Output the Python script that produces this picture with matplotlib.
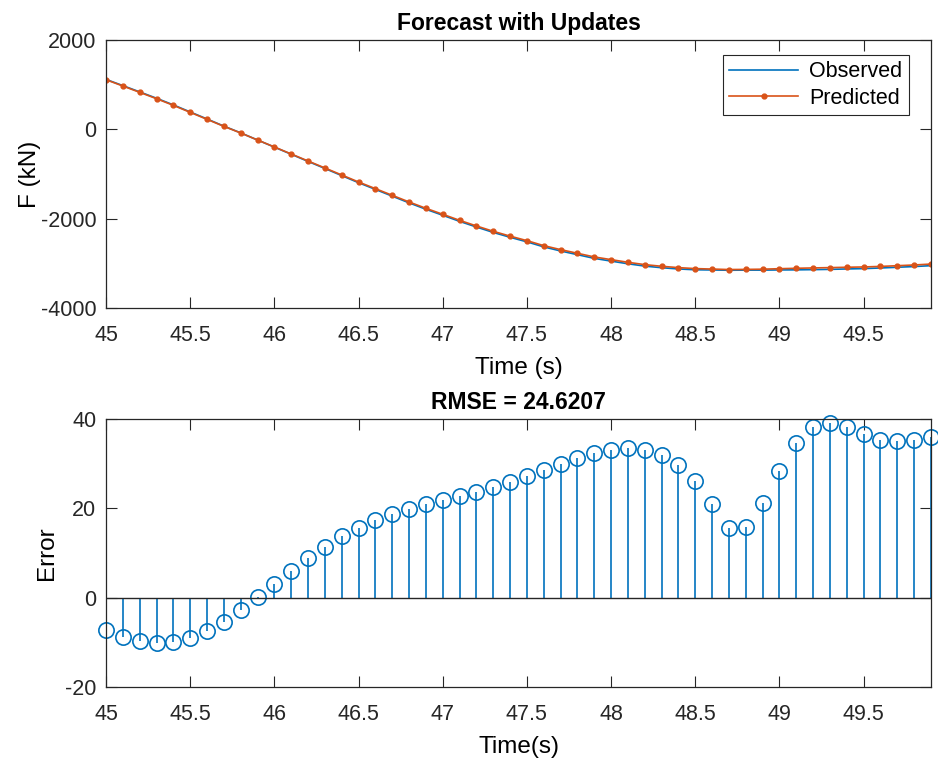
import numpy as np
import matplotlib
matplotlib.use("Agg")
from matplotlib import pyplot as plt

plt.rcParams['font.family'] = ['Liberation Sans', 'DejaVu Sans']
plt.rcParams['axes.unicode_minus'] = False

# Time stamps of the forecast window
t = [45.0, 45.1, 45.2, 45.3, 45.4, 45.5, 45.6, 45.7, 45.8, 45.9,
     46.0, 46.1, 46.2, 46.3, 46.4, 46.5, 46.6, 46.7, 46.8, 46.9,
     47.0, 47.1, 47.2, 47.3, 47.4, 47.5, 47.6, 47.7, 47.8, 47.9,
     48.0, 48.1, 48.2, 48.3, 48.4, 48.5, 48.6, 48.7, 48.8, 48.9,
     49.0, 49.1, 49.2, 49.3, 49.4, 49.5, 49.6, 49.7, 49.8, 49.9]

# Force (kN)
observed = [1118, 979, 838, 696, 547, 389, 232, 72, -79, -239,
            -398, -558, -718, -876, -1036, -1195, -1345, -1496, -1646, -1789,
            -1924, -2060, -2187, -2308, -2417, -2519, -2632, -2723, -2806, -2889,
            -2950, -3010, -3062, -3098, -3126, -3144, -3149, -3155, -3152, -3152,
            -3148, -3146, -3141, -3135, -3126, -3118, -3104, -3088, -3072, -3052]

predicted = [1111, 970, 828, 686, 537, 380, 224, 67, -82, -239,
             -395, -552, -709, -865, -1022, -1179, -1328, -1477, -1626, -1768,
             -1902, -2037, -2163, -2283, -2391, -2492, -2604, -2693, -2775, -2857,
             -2917, -2977, -3029, -3066, -3096, -3118, -3128, -3139, -3136, -3131,
             -3120, -3111, -3103, -3096, -3088, -3081, -3069, -3053, -3037, -3016]

# Prediction error
err = [-7.2, -8.8, -9.8, -10.2, -10.0, -9.1, -7.5, -5.4, -2.8, 0.1,
       3.0, 6.0, 8.9, 11.4, 13.7, 15.7, 17.4, 18.7, 19.9, 20.9,
       21.9, 22.8, 23.7, 24.8, 25.9, 27.2, 28.5, 29.9, 31.2, 32.4,
       33.1, 33.4, 33.1, 31.9, 29.6, 26.1, 21.0, 15.6, 15.9, 21.2,
       28.4, 34.6, 38.1, 39.2, 38.1, 36.6, 35.4, 35.1, 35.4, 36.0]

blue = '#0072BD'
orange = '#D95319'
axcol = '#262626'

fig = plt.figure(figsize=(9.38, 7.6), dpi=100)
ax1 = fig.add_axes([106 / 938, 1 - 308 / 760, 825 / 938, 268 / 760])
ax2 = fig.add_axes([106 / 938, 1 - 687 / 760, 825 / 938, 268 / 760])

ax1.plot(t, observed, color=blue, lw=1.2, label='Observed')
ax1.plot(t, predicted, color=orange, lw=1.2, marker='.', ms=7, label='Predicted')
ax1.set_xlim(45, 49.9)
ax1.set_ylim(-4000, 2000)
ax1.set_yticks([-4000, -2000, 0, 2000])
ax1.set_title('Forecast with Updates', fontsize=16.5, fontweight='bold', pad=7)
ax1.set_xlabel('Time (s)', fontsize=17.5, labelpad=8)
ax1.set_ylabel('F (kN)', fontsize=17.5, labelpad=0)
leg = ax1.legend(loc='upper right', fontsize=15.5, fancybox=False, framealpha=1,
                 edgecolor=axcol, handlelength=3.2, borderpad=0.3,
                 labelspacing=0.25, handletextpad=0.5, borderaxespad=0,
                 bbox_to_anchor=(0.973, 0.945))
leg.get_frame().set_linewidth(0.8)

markerline, stemlines, baseline = ax2.stem(t, err, basefmt='-')
plt.setp(stemlines, color=blue, linewidth=1.2)
plt.setp(markerline, color=blue, marker='o', markersize=11,
         markerfacecolor='none', markeredgewidth=1.2)
markerline.set_clip_on(False)
plt.setp(baseline, color=axcol, linewidth=1.0)
baseline.set_xdata([45, 49.9])
ax2.set_xlim(45, 49.9)
ax2.set_ylim(-20, 40)
ax2.set_yticks([-20, 0, 20, 40])
ax2.set_title('RMSE = 24.6207', fontsize=16.5, fontweight='bold', pad=7)
ax2.set_xlabel('Time(s)', fontsize=17.5, labelpad=8)
ax2.set_ylabel('Error', fontsize=17.5, labelpad=5)

for ax in (ax1, ax2):
    ax.set_xticks([45, 45.5, 46, 46.5, 47, 47.5, 48, 48.5, 49, 49.5])
    ax.set_xticklabels(['45', '45.5', '46', '46.5', '47', '47.5', '48', '48.5', '49', '49.5'])
    ax.tick_params(direction='in', length=8, width=0.8, colors=axcol,
                   labelsize=15.5, top=True, right=True)
    ax.tick_params(axis='x', pad=12)
    ax.tick_params(axis='y', pad=7)
    for s in ax.spines.values():
        s.set_color(axcol)
        s.set_linewidth(0.9)

fig.savefig('out.png', dpi=100)
